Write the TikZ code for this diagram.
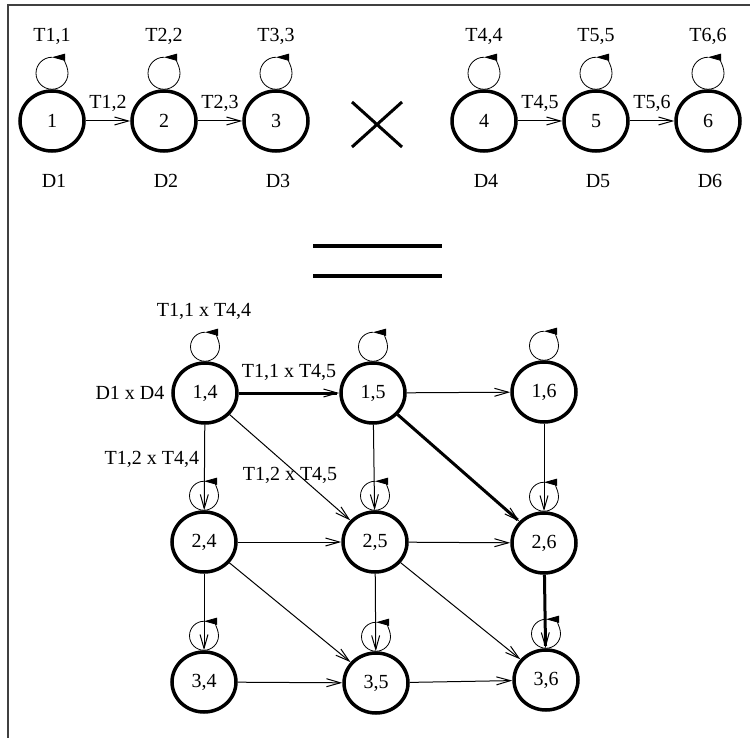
\documentclass[tikz,border=0pt]{standalone}
\usepackage{fontspec}
\setmainfont{Liberation Serif}
\usetikzlibrary{arrows.meta,shapes.geometric}

\tikzset{
    estado/.style={ellipse,draw,line width=3.5pt,minimum width=64pt,minimum height=60pt,inner sep=0pt},
    trans/.style={line width=1pt,-{Straight Barb[length=14pt,width=8pt]}},
    transgruesa/.style={line width=3pt,-{Straight Barb[length=14pt,width=8pt,line width=1pt]}},
    lazo/.style={line width=0.8pt,-{Triangle[length=13pt,width=7pt]}},
    etiq/.style={inner sep=0pt},
}

\begin{document}
\begin{tikzpicture}[x=1pt,y=-1pt,every node/.style={font=\fontsize{20}{24}\selectfont}]
    \useasboundingbox (0,0) rectangle (750,738);

    %marco
    \draw[line width=1.2pt,black!75] (8,738)--(8,5)--(750,5);

    %filaSuperior
    \foreach \i/\x in {1/52,2/164,3/276,4/484,5/596,6/708}{
        \node[estado] (n\i) at (\x,121) {\i};
        \node[etiq] (t\i) at (\x,36) {T\i,\i};
        \node[etiq] (d\i) at (\x+2,181) {D\i};
        \draw[lazo] (n\i.north) ++(0,-32) arc[start angle=270,end angle=-90,radius=16];
    }
    \draw[trans] (n1)--(n2) node[etiq,midway,above=9pt] (t12) {T1,2};
    \draw[trans] (n2)--(n3) node[etiq,midway,above=9pt] (t23) {T2,3};
    \draw[trans] (n4)--(n5) node[etiq,midway,above=9pt] (t45) {T4,5};
    \draw[trans] (n5)--(n6) node[etiq,midway,above=9pt] (t56) {T5,6};

    %por
    \draw[line width=3pt] (352,102)--(402,147) (352,147)--(402,102);
    %igual
    \draw[line width=3.5pt] (313,246)--(442,246) (313,276)--(442,276);

    %producto
    \foreach \f/\c/\x/\y in {1/4/205/393,1/5/373/393,1/6/544/392,2/4/204/542,2/5/375/542,2/6/544/543,3/4/204/682,3/5/376/683,3/6/546/680}{
        \node[estado] (e\f\c) at (\x,\y) {\f,\c};
        \draw[lazo] (e\f\c.north) ++(0,-29) arc[start angle=270,end angle=-90,radius=14.5];
    }
    \node[etiq] (l1414) at (204,311) {T1,1 x T4,4};
    \node[etiq] (dd14) at (130,393) {D1 x D4};

    \draw[transgruesa] (e14)--(e15) node[etiq,midway,above=11pt] (l1415) {T1,1 x T4,5};
    \draw[trans] (e14)--(e24) node[etiq,pos=0.4,left=5pt] (l1424) {T1,2 x T4,4};
    \draw[trans] (e14)--(e25);
    \node[etiq] (l1425) at (290,475) {T1,2 x T4,5};
    \draw[trans] (e15)--(e16);
    \draw[trans] (e15)--(e25);
    \draw[transgruesa] (e15)--(e26);
    \draw[trans] (e16)--(e26);
    \draw[trans] (e24)--(e25);
    \draw[trans] (e25)--(e26);
    \draw[trans] (e24)--(e34);
    \draw[trans] (e24)--(e35);
    \draw[trans] (e25)--(e35);
    \draw[trans] (e25)--(e36);
    \draw[transgruesa] (e26)--(e36);
    \draw[trans] (e34)--(e35);
    \draw[trans] (e35)--(e36);

\end{tikzpicture}
\end{document}
